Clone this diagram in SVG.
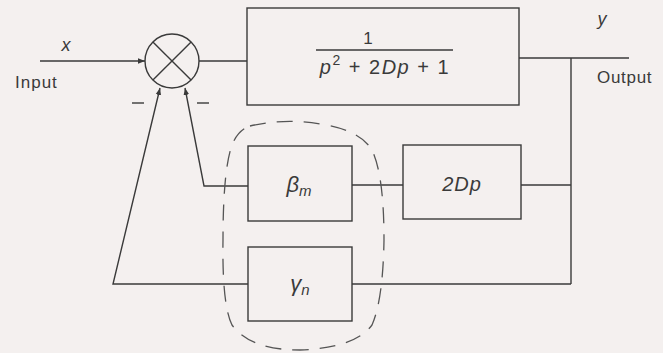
<svg xmlns="http://www.w3.org/2000/svg" width="663" height="353" viewBox="0 0 663 353">
<style>
.ln{stroke:#3a3a3a;stroke-width:1.4;fill:none}
.bx{stroke:#3a3a3a;stroke-width:1.4;fill:none}
.t{font-family:"Liberation Sans",Arial,sans-serif;fill:#3a3a3a}
.i{font-style:italic}
.dash{stroke:#555;stroke-width:1.3;fill:none;stroke-dasharray:16 11}
</style>
<defs>
<marker id="ah" viewBox="0 0 10 10" refX="10" refY="5" markerWidth="7" markerHeight="7" orient="auto" markerUnits="userSpaceOnUse">
<path d="M0,1 L10,5 L0,9 Z" fill="#3a3a3a"/>
</marker>
</defs>
<rect width="663" height="353" fill="#f4f0ef"/>

<g id="connectors">
<line class="ln" x1="40" y1="61" x2="145" y2="61" marker-end="url(#ah)"/>
<line class="ln" x1="199" y1="61" x2="247" y2="61"/>
<line class="ln" x1="519" y1="58" x2="629" y2="58"/>
<line class="ln" x1="571" y1="58" x2="571" y2="284"/>
<line class="ln" x1="571" y1="185" x2="521" y2="185"/>
<line class="ln" x1="403" y1="185" x2="352" y2="185"/>
<polyline class="ln" points="248,186 204,186 185,88" marker-end="url(#ah)"/>
<line class="ln" x1="571" y1="284" x2="352" y2="284"/>
<polyline class="ln" points="248,284 113,284 160,88" marker-end="url(#ah)"/>
</g>

<g id="sum">
<circle class="ln" cx="172" cy="61" r="27"/>
<line class="ln" x1="152.9" y1="41.9" x2="191.1" y2="80.1"/>
<line class="ln" x1="191.1" y1="41.9" x2="152.9" y2="80.1"/>
<line class="ln" x1="132" y1="103" x2="144" y2="103"/>
<line class="ln" x1="197" y1="103" x2="209" y2="103"/>
</g>

<g id="input-label">
<text class="t i" x="66" y="51" font-size="18" text-anchor="middle">x</text>
<text class="t" x="15" y="88" font-size="17" letter-spacing="1">Input</text>
</g>

<g id="plant">
<rect class="bx" x="247" y="8" width="272" height="97"/>
<text class="t" x="368" y="44" font-size="17" text-anchor="middle">1</text>
<line class="ln" x1="316" y1="50" x2="453" y2="50"/>
<text class="t" x="385" y="74" font-size="20" text-anchor="middle" letter-spacing="1.5"><tspan class="i">p</tspan><tspan font-size="14" dy="-9">2</tspan><tspan dy="9"> + 2</tspan><tspan class="i">Dp</tspan> + 1</text>
</g>

<g id="output-label">
<text class="t i" x="602" y="25" font-size="18" text-anchor="middle">y</text>
<text class="t" x="597" y="83" font-size="17" letter-spacing="0.7">Output</text>
</g>

<g id="beta">
<rect class="bx" x="248" y="146" width="104" height="75"/>
<text class="t i" x="299" y="192" font-size="22" text-anchor="middle">β<tspan font-size="15" dy="4">m</tspan></text>
</g>

<g id="twoDp">
<rect class="bx" x="403" y="145" width="118" height="74"/>
<text class="t i" x="462" y="191" font-size="20" text-anchor="middle" letter-spacing="1">2Dp</text>
</g>

<g id="gamma">
<rect class="bx" x="248" y="247" width="104" height="74"/>
<text class="t i" x="300" y="291" font-size="22" text-anchor="middle">γ<tspan font-size="15" dy="4">n</tspan></text>
</g>

<g id="group-outline">
<path class="dash" d="M250,126 Q285,118 320,124 Q360,130 372,150 Q384,175 384,240 Q383,300 372,325 Q355,348 300,350 Q250,350 232,325 Q222,305 223,240 Q223,170 232,145 Q238,130 250,126 Z"/>
</g>
</svg>
